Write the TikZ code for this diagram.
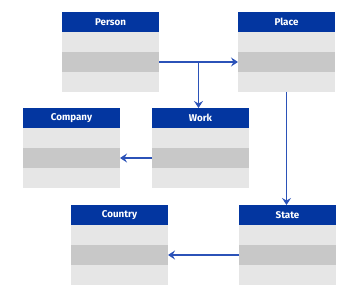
\documentclass[tikz,border=0pt]{standalone}
\usepackage{fontspec}
\setmainfont{Fira Sans}
\usetikzlibrary{arrows.meta,calc}
\definecolor{hdrblue}{HTML}{0336A0}
\definecolor{rowlight}{HTML}{E6E6E6}
\definecolor{rowdark}{HTML}{C8C8C8}
\definecolor{linkblue}{HTML}{2B52B8}
\tikzset{
  hdr/.style={fill=hdrblue, text=white, font=\fontsize{9.8}{11}\selectfont\bfseries, minimum width=97pt, minimum height=20pt, inner sep=0pt, outer sep=0pt, anchor=north west},
  rowl/.style={fill=rowlight, minimum width=97pt, minimum height=20pt, inner sep=0pt, outer sep=0pt, anchor=north},
  rowd/.style={fill=rowdark, minimum width=97pt, minimum height=20pt, inner sep=0pt, outer sep=0pt, anchor=north},
  link/.style={draw=linkblue, line width=1.2pt, -{Stealth[length=7pt,width=9pt,inset=2.5pt]}}
}
\newcommand{\umlbox}[4]{%
  \node[hdr] (#1) at (#2,#3) {#4};
  \node[rowl] (#1-1) at (#1.south) {};
  \node[rowd] (#1-2) at (#1-1.south) {};
  \node[rowl] (#1-3) at (#1-2.south) {};
}
\begin{document}
\begin{tikzpicture}[x=1pt,y=-1pt]
\useasboundingbox (0,0) rectangle (350,304);
\umlbox{person}{62}{12}{Person}
\umlbox{place}{238}{12}{Place}
\umlbox{company}{23}{108}{Company}
\umlbox{work}{152}{108}{Work}
\umlbox{country}{71}{205}{Country}
\umlbox{state}{239}{205}{State}
\draw[link] (person-2.east) -- (place-2.west);
\coordinate (br) at ($(person-2.east)!0.5!(place-2.west)$);
\draw[link] (br) -- (br |- work.north);
\draw[link] (place-3.south) -- (place-3.south |- state.north);
\draw[link] (work-2.west) -- (company-2.east);
\draw[link] (state-2.west) -- (country-2.east);
\end{tikzpicture}
\end{document}
